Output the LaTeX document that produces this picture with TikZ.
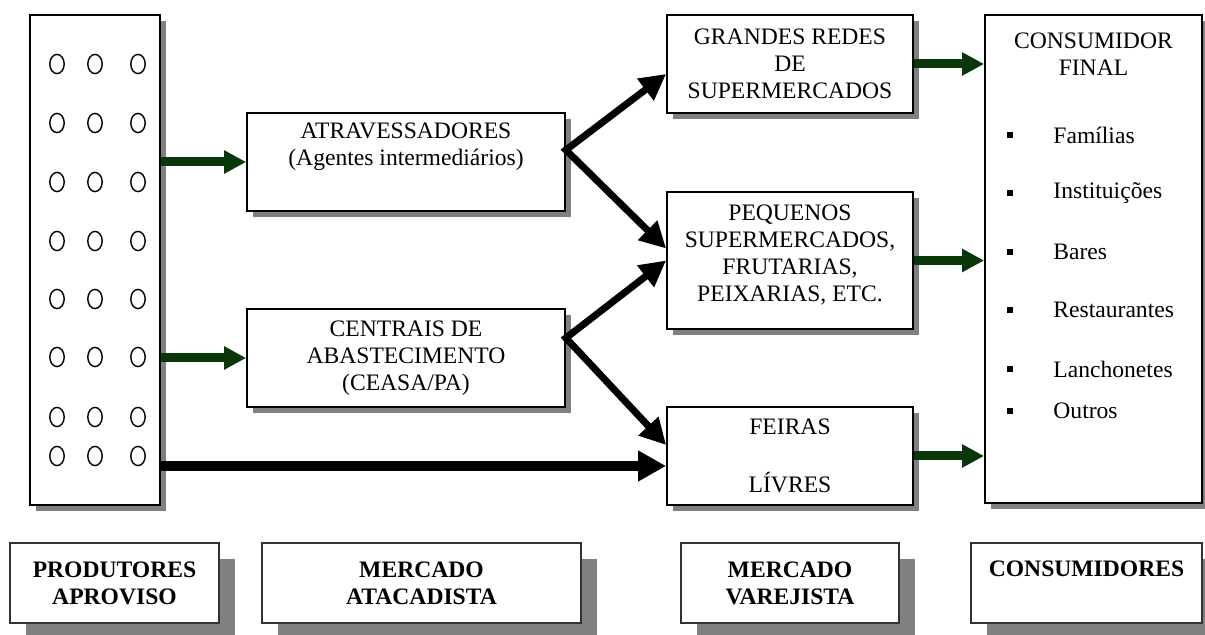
\documentclass[tikz,border=0pt]{standalone}
\usepackage{fontspec}
\setmainfont{Liberation Serif}
\usetikzlibrary{arrows.meta,shadows,calc}
\definecolor{dgreen}{RGB}{10,55,10}
\definecolor{shadowgray}{RGB}{128,128,128}
\tikzset{
  box/.style={draw=black, line width=0.9pt, fill=white, inner sep=0pt, align=center,
    font=\fontsize{11.8}{13.5}\selectfont,
    drop shadow={shadow xshift=3pt, shadow yshift=-3pt, fill=shadowgray, opacity=1}},
  legendbox/.style={draw=black!80, line width=1.3pt, fill=white, inner sep=0pt, align=center,
    font=\fontsize{11.8}{13.5}\selectfont\bfseries,
    minimum height=40pt,
    drop shadow={shadow xshift=8pt, shadow yshift=-8pt, fill=shadowgray, opacity=1}},
  greenarrow/.style={draw=dgreen, line width=4.5pt, -{Triangle[length=11pt,width=11pt]}},
  blackarrow/.style={draw=black, line width=3.5pt, line join=miter},
  bigarrow/.style={draw=black, line width=5pt, -{Triangle[length=14pt,width=14.5pt]}},
  itemtext/.style={anchor=west, inner sep=0pt, font=\fontsize{11.8}{13.5}\selectfont},
  bullet/.style={fill=black, minimum size=3.2pt, inner sep=0pt},
  dot/.style={line width=0.7pt},
  bhead/.tip={Triangle[length=13pt,width=13pt]},
}
\begin{document}
\begin{tikzpicture}[x=0.5pt,y=-0.5pt]
\useasboundingbox (0,0) rectangle (1205,635);

% main boxes
\node[box, minimum width=65pt, minimum height=245pt] (prod) at (95,260) {};
\node[box, minimum width=159pt, minimum height=49pt] (atr) at (406,162)
  {ATRAVESSADORES\\(Agentes intermediários)\\ \strut};
\node[box, minimum width=159pt, minimum height=49pt] (cen) at (406,358)
  {CENTRAIS DE\\ABASTECIMENTO\\(CEASA/PA)};
\node[box, minimum width=123pt, minimum height=49pt] (gra) at (790,64)
  {GRANDES REDES\\DE\\SUPERMERCADOS};
\node[box, minimum width=123pt, minimum height=68.5pt] (peq) at (790,260.5)
  {PEQUENOS\\SUPERMERCADOS,\\FRUTARIAS,\\PEIXARIAS, ETC.\\[-10.5pt]\strut};
\node[box, minimum width=123pt, minimum height=49pt] (fei) at (790,456)
  {FEIRAS\\ \strut\\LÍVRES};
\node[box, minimum width=108.5pt, minimum height=244pt] (cons) at (1093.5,259) {};

% producers circles
\foreach \cx in {57,95,138}{
  \foreach \cy in {64,123,182,241,299,357,417,456}{
    \draw[dot] (\cx,\cy) ellipse [x radius=3.6pt, y radius=4.8pt];
  }
}

% consumer text
\node[inner sep=0pt, align=center, font=\fontsize{11.8}{13.5}\selectfont] (ctitle) at (1093.5,54)
  {CONSUMIDOR\\FINAL};
\foreach \name/\yy/\txt in {f1/135/Famílias, f2/193/Instituições, f3/252/Bares,
    f4/310/Restaurantes, f5/369/Lanchonetes, f6/411/Outros}{
  \node[bullet] (b\name) at (1010,\yy) {};
  \node[itemtext] (t\name) at (1053,\yy) {\txt};
}

% legend boxes
\node[legendbox, minimum width=104.5pt] (l1) at (114.5,583) {PRODUTORES\\APROVISO};
\node[legendbox, minimum width=159.5pt] (l2) at (421.5,583) {MERCADO\\ATACADISTA};
\node[legendbox, minimum width=109pt] (l3) at (790,583) {MERCADO\\VAREJISTA};
\node[legendbox, minimum width=115.5pt] (l4) at (1086.5,583) {CONSUMIDORES\\[-3pt] \strut};

% green arrows
\draw[greenarrow] (prod.east |- atr.west) -- (atr.west);
\draw[greenarrow] (prod.east |- cen.west) -- (cen.west);
\draw[greenarrow] (gra.east) -- (gra.east -| cons.west);
\draw[greenarrow] (peq.east) -- (peq.east -| cons.west);
\draw[greenarrow] (fei.east) -- (fei.east -| cons.west);

% black arrows
\coordinate (s1) at ([yshift=6pt]atr.east);
\coordinate (s2) at ([yshift=10pt]cen.east);
\draw[blackarrow, bhead-bhead]
  ([yshift=-5pt]gra.west) -- (s1) -- ([yshift=6pt]peq.west);
\draw[blackarrow, bhead-bhead]
  (peq.west) -- (s2) -- ([yshift=5.5pt]fei.west);
\coordinate (h) at ([yshift=-5pt]fei.west);
\draw[bigarrow] (prod.east |- h) -- (h);
\end{tikzpicture}
\end{document}
